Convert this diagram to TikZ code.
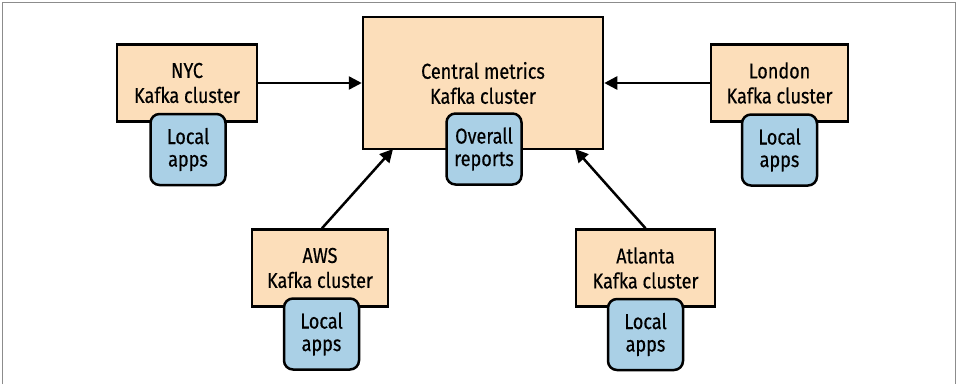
\documentclass[tikz,border=0pt]{standalone}
\usepackage{fontspec}
\setmainfont{Fira Sans}[FakeStretch=0.84,FakeBold=0.4]
\usetikzlibrary{arrows.meta}
\definecolor{peach}{RGB}{252,222,186}
\definecolor{skyb}{RGB}{170,208,230}
\definecolor{framegray}{RGB}{140,140,140}
\tikzset{
  cluster/.style={draw=black, line width=2.5pt, fill=peach, minimum width=138pt, minimum height=77pt, inner sep=0pt, align=center, font=\fontsize{21.5}{25}\selectfont},
  apps/.style={draw=black, line width=2.5pt, fill=skyb, rounded corners=9pt, minimum width=75pt, minimum height=71pt, inner sep=0pt, align=center, font=\fontsize{21.5}{22.5}\selectfont},
  link/.style={line width=2.5pt, -{Triangle[length=13pt,width=13pt]}}
}
\begin{document}
\begin{tikzpicture}[x=1pt,y=-1pt]
\useasboundingbox (0,0) rectangle (957,384);
\draw[framegray, line width=1pt] (2.5,384) -- (2.5,2.5) -- (955.5,2.5) -- (955.5,384);
% central
\node[cluster, minimum width=240pt, minimum height=132pt] (central) at (483,83) {Central metrics\\Kafka cluster};
\node[apps] (overall) at (484,149) {Overall\\reports};
% NYC
\node[cluster, minimum width=140pt] (nyc) at (187,83) {NYC\\Kafka cluster};
\node[apps] (nycapps) at (188,149.5) {Local\\apps};
% London
\node[cluster, minimum width=137pt] (london) at (779.5,83) {London\\Kafka cluster};
\node[apps] (londonapps) at (779.5,150) {Local\\apps};
% AWS
\node[cluster, minimum width=136pt] (aws) at (320,268) {AWS\\Kafka cluster};
\node[apps] (awsapps) at (321.5,334) {Local\\apps};
% Atlanta
\node[cluster, minimum width=139pt] (atl) at (645.5,268) {Atlanta\\Kafka cluster};
\node[apps] (atlapps) at (645.5,334.5) {Local\\apps};
% links
\draw[link] (nyc.east) -- (central.west);
\draw[link] (london.west) -- (central.east);
\coordinate (awsc) at (393,149);
\coordinate (atlc) at (575,149);
\draw[link] (aws.north) ++(2,0) coordinate (awst) -- (awsc);
\draw[link] (atl.north) -- (atlc);
\end{tikzpicture}
\end{document}
